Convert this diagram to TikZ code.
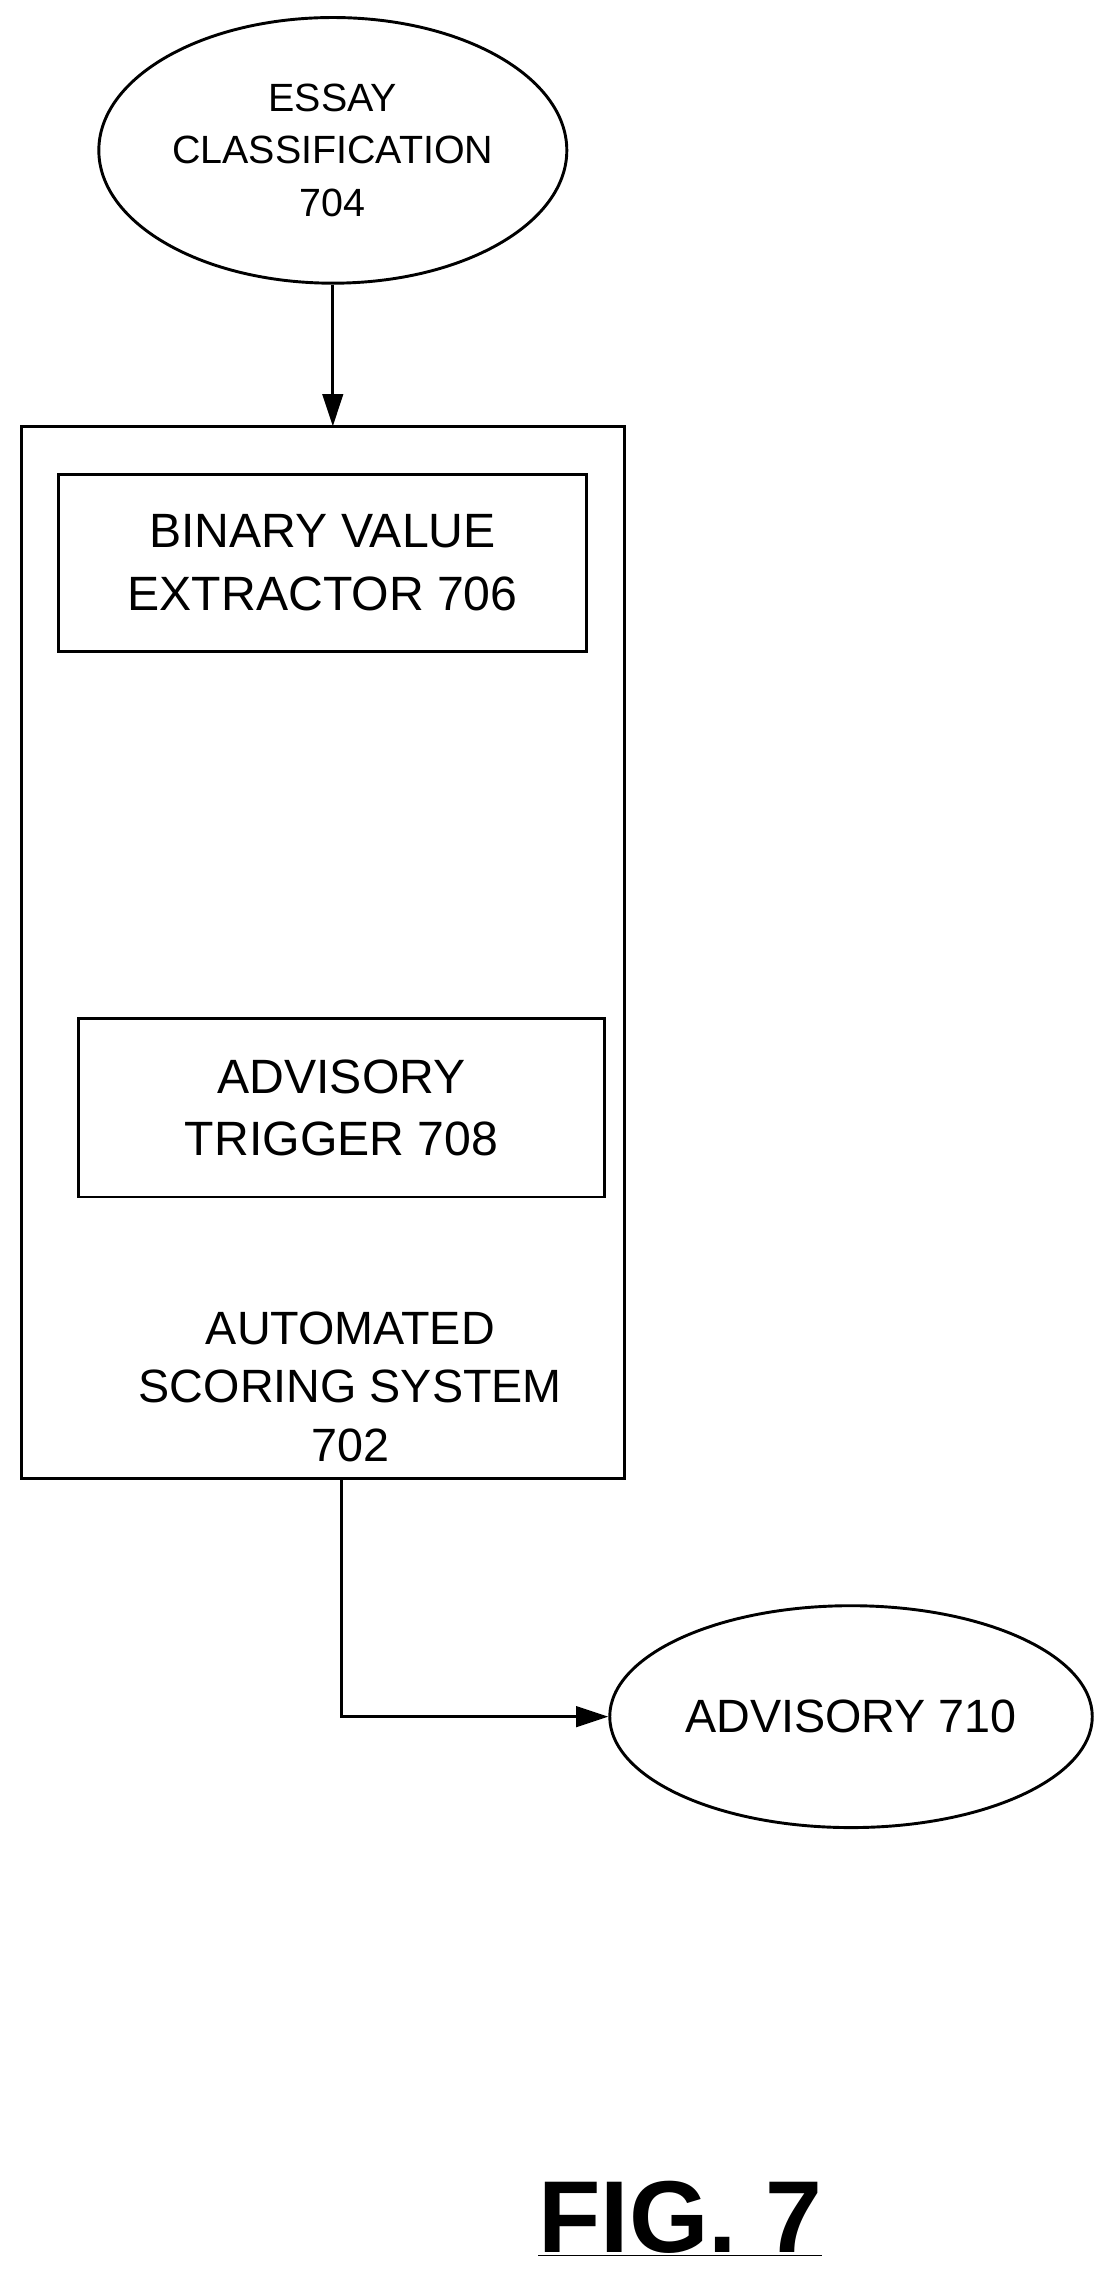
\documentclass[tikz,border=0pt]{standalone}
\usepackage{fontspec}
\setmainfont{Liberation Sans}
\usetikzlibrary{shapes.geometric,arrows.meta}
\begin{document}
\begin{tikzpicture}[x=1pt,y=-1pt,line width=2pt,
  lbl/.style={align=center,font=\fontsize{27}{36}\selectfont},
  big/.style={align=center,font=\fontsize{33}{43}\selectfont},
  arr/.style={-{Triangle[length=22pt,width=14pt]}}]
\useasboundingbox (0,0) rectangle (750,1564);
\draw (15,292) rectangle (428,1013);
\node[draw,ellipse,minimum width=310pt,minimum height=182pt,lbl] (ec) at (228,103) {ESSAY\\CLASSIFICATION\\704};
\coordinate (top) at (228,292);
\draw[arr] (ec.south) -- (top);
\node[draw,minimum width=362pt,minimum height=121pt,big,inner sep=0pt] (bv) at (221,385.5) {BINARY VALUE\\EXTRACTOR 706};
\node[draw,minimum width=360pt,minimum height=122pt,big,inner sep=0pt] (at) at (234,759) {ADVISORY\\TRIGGER 708};
\node[big,font=\fontsize{32}{40}\selectfont] (as) at (240,950) {AUTOMATED\\SCORING SYSTEM\\702};
\coordinate (bot) at (234,1013);
\node[draw,ellipse,minimum width=310pt,minimum height=152pt,big,font=\fontsize{32}{40}\selectfont] (adv) at (583,1176) {ADVISORY 710};
\draw[arr] (bot) |- (adv.west);
\node[font=\bfseries\fontsize{70}{80}\selectfont] (fig) at (466,1520) {\underline{FIG. 7}};
\end{tikzpicture}
\end{document}
